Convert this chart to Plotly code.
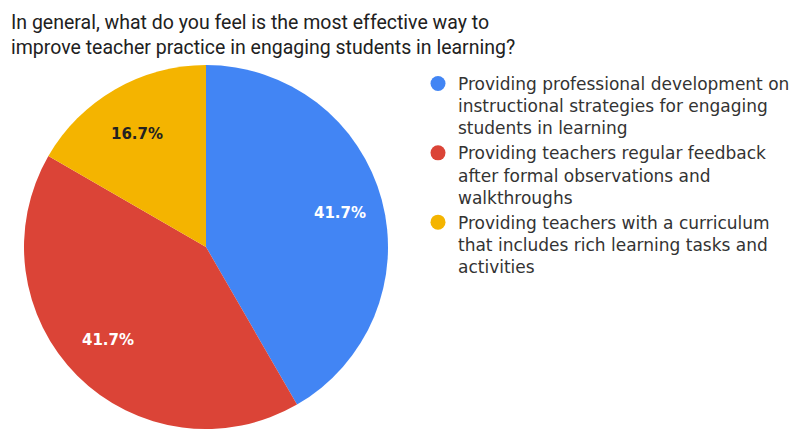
import math
import plotly.graph_objects as go

title_text = ("In general, what do you feel is the most effective way to<br>"
              "improve teacher practice in engaging students in learning?")
categories = [
    "Providing professional development on<br>instructional strategies for engaging<br>students in learning",
    "Providing teachers regular feedback<br>after formal observations and<br>walkthroughs",
    "Providing teachers with a curriculum<br>that includes rich learning tasks and<br>activities",
]
values = [5, 5, 2]
colors = ["#4285F4", "#DB4437", "#F4B400"]
text_colors = ["#FFFFFF", "#FFFFFF", "#222222"]

W, H = 796, 429
dom_x = [24 / W, 388 / W]
dom_y = [0, 364 / H]

fig = go.Figure()

fig.add_trace(go.Pie(
    labels=categories,
    values=values,
    sort=False,
    direction="clockwise",
    rotation=0,
    marker=dict(colors=colors, line=dict(width=0)),
    textinfo="none",
    hoverinfo="skip",
    showlegend=False,
    domain=dict(x=dom_x, y=dom_y),
))

# percentage labels placed along each slice's bisector (derived from the values)
cx = (dom_x[0] + dom_x[1]) / 2 * W
cy = (1 - (dom_y[0] + dom_y[1]) / 2) * H
r = min((dom_x[1] - dom_x[0]) * W, (dom_y[1] - dom_y[0]) * H) / 2
total = sum(values)
cum = 0
for v, tc in zip(values, text_colors):
    mid = (cum + v / 2) / total * 2 * math.pi
    cum += v
    px = cx + 0.76 * r * math.sin(mid)
    py = cy - 0.72 * r * math.cos(mid)
    fig.add_annotation(
        x=px / W, y=1 - py / H, xref="paper", yref="paper",
        text=f"{v / total * 100:.1f}%", showarrow=False,
        xanchor="center", yanchor="middle",
        font=dict(family="DejaVu Sans", size=15, color=tc, weight="bold"),
    )

# legend entries (circle symbols like the reference)
for name, col in zip(categories, colors):
    fig.add_trace(go.Scatter(
        x=[None], y=[None], mode="markers", name=name,
        marker=dict(symbol="circle", size=15, color=col),
        hoverinfo="skip",
    ))

fig.update_layout(
    width=W, height=H,
    margin=dict(l=0, r=0, t=0, b=0),
    paper_bgcolor="white",
    plot_bgcolor="white",
    xaxis=dict(visible=False),
    yaxis=dict(visible=False),
    title=dict(
        text=title_text,
        x=11 / W, xanchor="left", xref="container",
        y=1 - 29 / H, yanchor="top", yref="container",
        font=dict(family="Roboto", size=19.5, color="#212121"),
    ),
    legend=dict(
        x=418 / W, xanchor="left",
        y=1 - 66 / H, yanchor="top",
        valign="top",
        font=dict(family="DejaVu Sans", size=17, color="#333333"),
        bgcolor="rgba(0,0,0,0)",
        tracegroupgap=0,
    ),
    showlegend=True,
)

fig.write_html("out.html")
